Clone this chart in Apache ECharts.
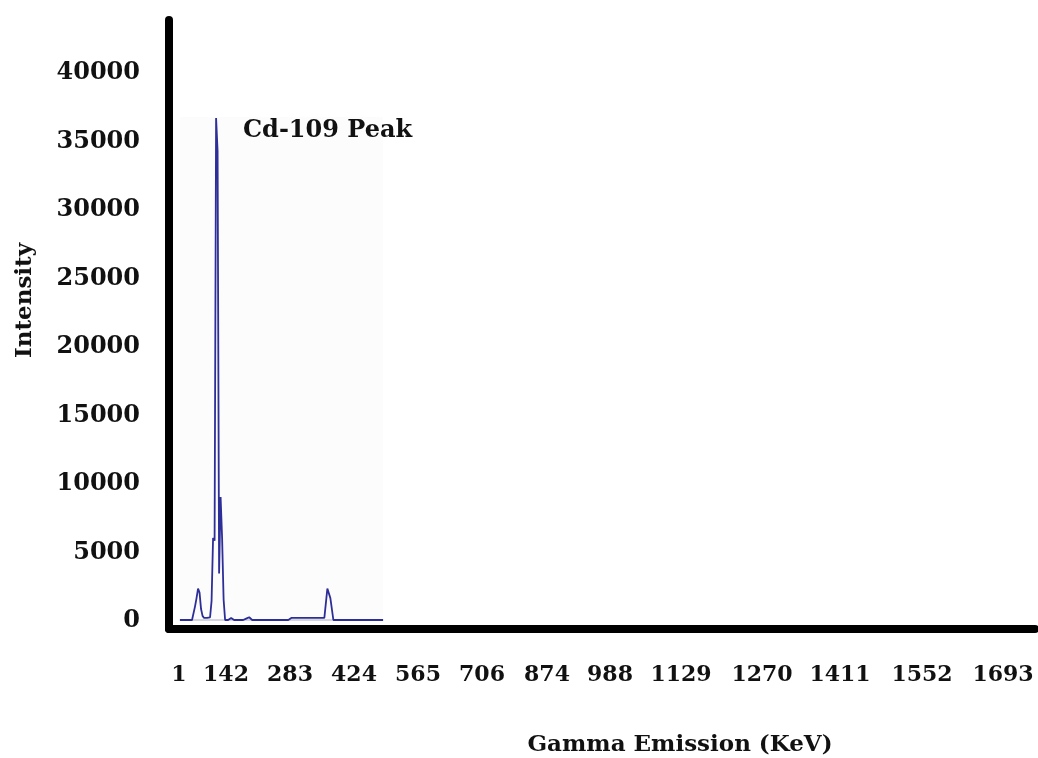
<!DOCTYPE html>
<html>
<head>
<meta charset="utf-8">
<script src="https://cdn.jsdelivr.net/npm/echarts@6/dist/echarts.min.js"></script>
<style>
html,body{margin:0;padding:0;background:#fff;}
#chart{width:1038px;height:758px;}
</style>
</head>
<body>
<div id="chart"></div>
<script>
// ---- data ----
const xTickLabels = ['1','142','283','424','565','706','874','988','1129','1270','1411','1552','1693'];
const yTickValues = [0,5000,10000,15000,20000,25000,30000,35000,40000];
// spectrum: intensity per channel (channel 0..135)
const counts = [
  0,0,0,0,0,0,0,0,0,50,
  1000,1600,2300,2000,800,300,150,100,150,100,
  200,1400,6000,5800,36700,34300,3400,9000,6000,1500,
  0,0,0,100,150,100,0,0,0,0,
  0,0,0,0,100,200,200,100,0,0,
  0,0,0,0,0,0,0,0,0,0,
  0,0,0,0,0,0,0,0,0,0,
  0,0,0,0,150,150,150,150,150,150,
  150,150,150,150,150,150,150,150,150,150,
  150,150,150,150,150,150,150,150,2300,2200,
  1600,1500,0,0,0,0,0,0,0,0,
  0,0,0,0,0,0,0,0,0,0,
  0,0,0,0,0,0,0,0,0,0,
  0,0,0,0,0,0
];
const channels = counts.map((_, i) => i);
const peakLabel = 'Cd-109 Peak';
const xName = 'Gamma Emission (KeV)';
const yName = 'Intensity';

// ---- layout (pixel placement of the typed label row) ----
const labelCenters = [179,226,290,354,418,482,547,610,681,762,840,922,1003];

const FONT = '"DejaVu Serif", "Liberation Serif", serif';
const chart = echarts.init(document.getElementById('chart'), null, {renderer: 'canvas'});

chart.setOption({
  backgroundColor: '#ffffff',
  animation: false,
  grid: [
    {left: 169, right: 3, top: 20, bottom: 129, containLabel: false, outerBoundsMode: 'none'},
    {left: 180, right: 655, top: 117, bottom: 138, show: true, backgroundColor: '#fcfcfc', borderWidth: 0, containLabel: false, outerBoundsMode: 'none'}
  ],
  xAxis: [
    {
      gridIndex: 0, type: 'value', min: 169, max: 1035,
      axisLine: {onZero: false, lineStyle: {color: '#000', width: 8, cap: 'round'}},
      axisTick: {show: false},
      splitLine: {show: false},
      axisLabel: {
        customValues: labelCenters,
        formatter: v => xTickLabels[labelCenters.indexOf(v)] ?? '',
        margin: 35,
        color: '#111', fontFamily: FONT, fontWeight: 'bold', fontSize: 22
      },
      name: xName, nameLocation: 'middle', nameGap: 105,
      nameTextStyle: {color: '#111', fontFamily: FONT, fontWeight: 'bold', fontSize: 23, padding: [0,0,0,156]}
    },
    {
      gridIndex: 1, type: 'value', min: 0, max: 135,
      axisLine: {onZero: true, lineStyle: {color: '#c8c8d4', width: 1.5}},
      axisTick: {show: false}, axisLabel: {show: false}, splitLine: {show: false}
    }
  ],
  yAxis: [
    {
      gridIndex: 0, type: 'value', min: -585, max: 43876,
      axisLine: {show: true, onZero: false, lineStyle: {color: '#000', width: 8, cap: 'round'}},
      axisTick: {show: false},
      splitLine: {show: false},
      axisLabel: {
        customValues: yTickValues,
        formatter: v => String(v),
        margin: 29,
        color: '#111', fontFamily: FONT, fontWeight: 'bold', fontSize: 24
      },
      name: yName, nameLocation: 'middle', nameGap: 132, nameRotate: 90,
      nameTextStyle: {color: '#111', fontFamily: FONT, fontWeight: 'bold', fontSize: 23, padding: [0,0,0,48]}
    },
    {
      gridIndex: 1, type: 'value', min: 0, max: 36782,
      axisLine: {show: false}, axisTick: {show: false}, axisLabel: {show: false}, splitLine: {show: false}
    }
  ],
  graphic: [
    {
      type: 'text', left: 243, top: 119,
      style: {text: peakLabel, fill: '#111', font: 'bold 24px ' + FONT}
    }
  ],
  series: [
    {
      type: 'line', xAxisIndex: 1, yAxisIndex: 1,
      data: channels.map((c, i) => [c, counts[i]]),
      showSymbol: false,
      lineStyle: {color: '#2e2e98', width: 1.8},
      clip: false
    }
  ]
});
</script>
</body>
</html>
